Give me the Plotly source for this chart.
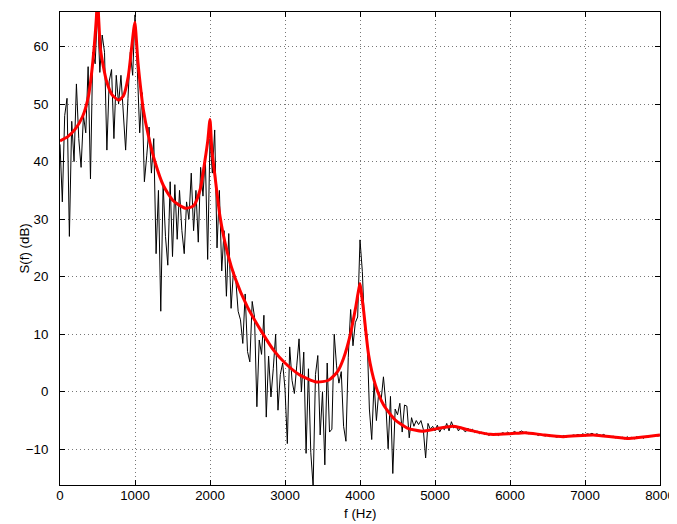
import numpy as np
import plotly.graph_objects as go

# Periodogram (black), frequency step 31.25 Hz from 0 to 8000 Hz
black_step_hz = 31.25
black_db = [
    43, 33, 48, 51, 27, 47, 40, 53.5, 44, 39, 48, 45, 56.5, 37, 59, 57,
    66.5, 55.5, 62, 59, 42, 54, 56, 44, 55, 50, 55, 49, 42, 51, 59, 55,
    65.5, 56, 45, 52, 36.5, 41, 46, 38, 44, 24, 35, 14, 36, 27, 22, 36.5,
    23.5, 36, 26.5, 35, 28, 24, 33, 30, 38, 28, 35, 26, 39, 34, 41, 23,
    44, 38, 45.5, 25, 35, 21, 28, 16.6, 27.5, 14.5, 21, 19.5, 14, 12.5, 8.4, 17,
    7, 5.2, 15.7, 13, -2.6, 9, 6.5, 13.3, -4.4, 6.2, -0.9, 4, 10, -3.2, 3, 5,
    0.5, -9, 7.8, 2, -0.3, 4.5, 9.2, 0, 6.9, -10.7, 4, -10.5, -16.5, 3, 6.3, -7.5,
    0, -12.7, 5, -7, -6.5, 10, 4.5, 1.5, 3.5, -6, -8.6, 6, 14.3, 8, 12, 13,
    26.4, 20.9, 10.7, 10, -3, -8.3, 1.5, -5, 0, -1.5, 2.6, -2, -9.9, -0.8, -14.2, -3,
    -4, -2, -7, -2.3, -2.5, -8, -4.5, -6, -5, -5.7, -5, -6.5, -11.5, -5.5, -6.5, -6,
    -6.8, -5.8, -7.0, -6.2, -6.6, -5.5, -6.8, -5.2, -6.3, -5.9, -6.8, -6.1, -6.6, -7.0, -6.3, -6.9,
    -6.5, -7.1, -6.8, -7.3, -7.0, -7.4, -7.2, -7.6, -7.3, -7.5, -7.2, -7.6, -7.3, -7.1, -7.4, -7.0,
    -7.3, -7.1, -6.9, -7.2, -7.0, -6.8, -7.1, -7.0, -7.3, -7.1, -7.4, -7.3, -7.6, -7.4, -7.5, -7.7,
    -7.5, -7.8, -7.6, -7.7, -7.9, -7.7, -7.8, -7.6, -7.9, -7.6, -7.7, -7.5, -7.6, -7.4, -7.6, -7.3,
    -7.5, -7.3, -7.4, -7.2, -7.5, -7.3, -7.5, -7.6, -7.4, -7.7, -7.6, -7.9, -7.7, -8.0, -7.8, -8.1,
    -7.9, -8.2, -7.8, -8.1, -7.9, -8.2, -7.8, -8.0, -7.8, -8.1, -7.7, -7.9, -7.6, -7.8, -7.5, -7.7,
    -7.6,
]
black_f = np.arange(len(black_db)) * black_step_hz

# Model spectrum (red)
red_f = [0, 100, 200, 300, 380, 420, 460, 485, 500, 515, 540, 580, 620, 690, 780,
         845, 910, 955, 985, 1000, 1015, 1040, 1070, 1110, 1180, 1270, 1380, 1510,
         1670, 1780, 1870, 1935, 1970, 2000, 2025, 2067, 2133, 2222, 2333,
         2500, 2700, 2850, 3000, 3200, 3420, 3580, 3700, 3780, 3870, 3940, 3975,
         4000, 4025, 4050, 4115, 4205, 4315, 4470, 4630, 4830, 5030, 5245, 5470,
         5740, 6000, 6200, 6450, 6710, 7110, 7560, 8000]
red_db = [43.6, 44.3, 45.6, 47.8, 51.4, 55.2, 60.6, 65, 69, 65, 59.5, 56.4, 54, 51.7, 50.7,
          51.4, 54.8, 59.8, 63.2, 64.2, 61.8, 57.2, 53.4, 49.1, 44.4, 39.8, 35.8, 33.2,
          31.9, 32.3, 35.2, 40.4, 43.6, 47.3, 42.0, 37.4, 30.5, 24.7, 19.8,
          14.7, 10.2, 7.2, 5.0, 2.9, 1.7, 2.0, 3.5, 5.8, 9.9, 14.5, 17.2,
          18.8, 16.5, 13.9, 6.4, 1.2, -2.3, -4.9, -6.3, -6.85, -6.4, -6.0, -6.7,
          -7.4, -7.3, -7.1, -7.5, -7.8, -7.5, -8.1, -7.5]

x_ticks = [0, 1000, 2000, 3000, 4000, 5000, 6000, 7000, 8000]
y_ticks = [-10, 0, 10, 20, 30, 40, 50, 60]
x_title = "f (Hz)"
y_title = "S(f) (dB)"

fig = go.Figure()
fig.add_trace(go.Scatter(x=black_f, y=black_db, mode="lines",
                         line=dict(color="black", width=1), showlegend=False))
fig.add_trace(go.Scatter(x=red_f, y=red_db, mode="lines",
                         line=dict(color="#ff0000", width=3, shape="spline", smoothing=0.6),
                         showlegend=False))

FS = 13.3
axis_common = dict(
    showline=True, linecolor="black", linewidth=1, mirror="ticks",
    ticks="inside", ticklen=5, tickcolor="black", automargin=False,
    showgrid=True, gridcolor="#777777", griddash="1px,3px", gridwidth=1,
    zeroline=False, tickfont=dict(size=FS, color="black"),
)
fig.update_xaxes(range=[0, 8000], tickvals=x_ticks, ticklabelstandoff=-2, **axis_common)
fig.update_yaxes(range=[-16.2, 66], tickvals=y_ticks, ticklabelstandoff=8, **axis_common)

fig.add_annotation(text=x_title, xref="paper", yref="paper", x=0.5, y=0,
                   yshift=-28, xanchor="center", yanchor="middle", showarrow=False,
                   font=dict(size=FS, color="black"))
fig.add_annotation(text=y_title, xref="paper", yref="paper", x=0, y=0.5,
                   xshift=-36, xanchor="center", yanchor="middle", textangle=-90,
                   showarrow=False, font=dict(size=FS, color="black"))

# page body has an 8px margin, so the figure is sized/offset to compensate
fig.update_layout(
    width=669, height=516,
    margin=dict(l=52, r=17, t=4, b=39),
    paper_bgcolor="white", plot_bgcolor="white",
    font=dict(family="Liberation Sans, Arial, sans-serif", color="black"),
)
fig.write_html("out.html")
